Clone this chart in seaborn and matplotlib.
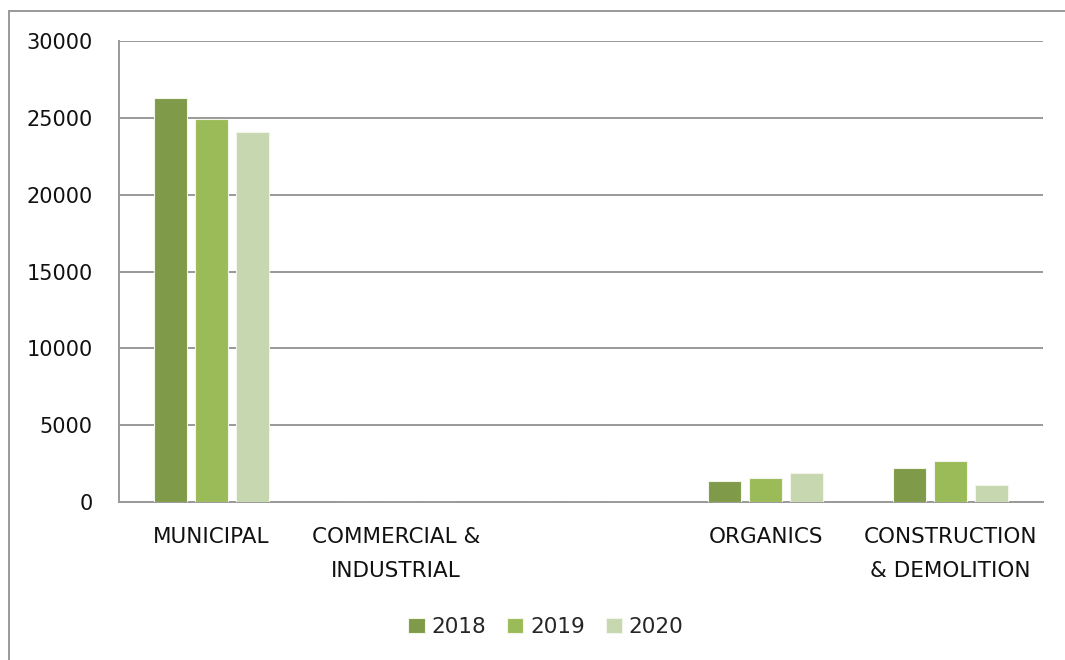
import matplotlib
matplotlib.use("Agg")
import matplotlib.pyplot as plt
from matplotlib.patches import Rectangle
import seaborn as sns
import pandas as pd

categories = ["MUNICIPAL", "COMMERCIAL &\nINDUSTRIAL", " ", "ORGANICS", "CONSTRUCTION\n& DEMOLITION"]
years = ["2018", "2019", "2020"]
values_2018 = [26300, 0, 0, 1370, 2240]
values_2019 = [24950, 0, 0, 1540, 2690]
values_2020 = [24060, 0, 0, 1870, 1130]
y_ticks = [0, 5000, 10000, 15000, 20000, 25000, 30000]

colors = ["#7F9A48", "#9BBB59", "#C7D7AF"]

rows = []
for yr, vals in zip(years, [values_2018, values_2019, values_2020]):
    for cat, v in zip(categories, vals):
        rows.append({"category": cat, "year": yr, "value": v})
df = pd.DataFrame(rows)

sns.set_theme(style="white")
plt.rcParams["font.family"] = ["DejaVu Sans"]

fig = plt.figure(figsize=(10.65, 6.6), dpi=100)
ax = fig.add_axes([119 / 1065, 1 - 502 / 660, (1043 - 119) / 1065, (502 - 41) / 660])

sns.barplot(data=df, x="category", y="value", hue="year", order=categories,
            hue_order=years, palette=colors, saturation=1, width=0.667, gap=0.2,
            edgecolor="#F2F6EA", linewidth=0.8, ax=ax, zorder=3)

ax.set_ylim(0, 30000)
ax.set_yticks(y_ticks)
ax.set_yticklabels([str(t) for t in y_ticks])
ax.set_xlim(-0.5, len(categories) - 0.5)
ax.set_xlabel("")
ax.set_ylabel("")
ax.yaxis.grid(True, color="#999999", linewidth=1.4, zorder=0)
ax.set_axisbelow(True)
for side in ["top", "right"]:
    ax.spines[side].set_visible(False)
for side in ["left", "bottom"]:
    ax.spines[side].set_color("#999999")
    ax.spines[side].set_linewidth(1.4)
ax.tick_params(axis="y", length=0, pad=19, labelsize=15, labelcolor="#111111")
ax.tick_params(axis="x", length=0, pad=18, labelsize=15.5, labelcolor="#111111")
for lbl in ax.get_xticklabels():
    lbl.set_linespacing(1.85)
    lbl.set_verticalalignment("top")

ax.legend(loc="center", bbox_to_anchor=(546 / 1065, 1 - 627 / 660),
          bbox_transform=fig.transFigure, ncol=3, frameon=False,
          fontsize=15.5, handlelength=0.75, handleheight=0.75,
          handletextpad=0.3, columnspacing=1.0)

# outer chart frame
fig.patches.append(Rectangle((9 / 1065, -0.05), 1.2, 1 - 11 / 660 + 0.05,
                             transform=fig.transFigure, fill=False,
                             edgecolor="#999999", linewidth=1.4))

fig.savefig("out.png", dpi=100)
